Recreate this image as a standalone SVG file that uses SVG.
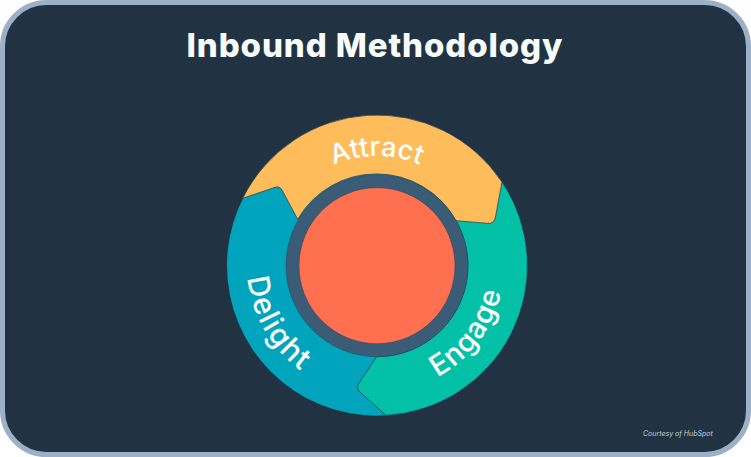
<svg xmlns="http://www.w3.org/2000/svg" width="751" height="457" viewBox="0 0 751 457">
  <style>
    .seg { stroke: #2b4158; stroke-width: 0.8; stroke-linejoin: round; }
    .lbl { font-family: "Inter", "Liberation Sans", sans-serif; font-weight: 500; fill: #ffffff; text-anchor: middle; }
  </style>
  <defs>
    <path id="pA" d="M306.6 181.6 A109.5 109.5 0 0 1 447.4 181.6"/>
    <path id="pE" d="M399.05 390.57 A127 127 0 0 0 503.52 254.43"/>
    <path id="pD" d="M248.97 242.93 A130 130 0 0 0 332.54 387.66"/>
  </defs>
  <rect x="0" y="0" width="751" height="457" fill="#ffffff"/>
  <rect id="frame" x="2.5" y="2.5" width="746" height="452" rx="44" ry="44" fill="#213343" stroke="#9cb1c8" stroke-width="5"/>
  <text id="title" x="374.5" y="57" font-family="Inter, 'Liberation Sans', sans-serif" font-weight="800" font-size="33" fill="#f8fbfc" text-anchor="middle" textLength="376" lengthAdjust="spacing">Inbound Methodology</text>
  <g id="delight">
    <circle cx="377" cy="265.7" r="150" fill="#00a4bd"/>
    <text class="lbl" font-size="30" letter-spacing="1.5"><textPath href="#pD" startOffset="50%">Delight</textPath></text>
  </g>
  <g id="engage">
    <path class="seg" fill="#03c1a7" d="M502 182 A150 150 0 0 1 386 415.4 L360 392 Q356 388 358.5 384 L376.7 356.7 A91 91 0 0 0 456 220.7 Z"/>
    <text class="lbl" font-size="29" letter-spacing="1"><textPath href="#pE" startOffset="51%">Engage</textPath></text>
  </g>
  <g id="attract">
    <path class="seg" fill="#ffbc5b" d="M242.7 198.3 A150 150 0 0 1 502 182 L495.5 217 Q494 224 488 223.4 L456 220.7 A91 91 0 0 0 297.7 219.3 L282 190 Q280 186 276 187 Z"/>
    <text class="lbl" font-size="27" letter-spacing="0.3"><textPath href="#pA" startOffset="50%">Attract</textPath></text>
  </g>
  <g id="hub">
    <circle cx="377" cy="265.7" r="84.5" fill="#ff7050" stroke="#3a5c76" stroke-width="13"/>
    <circle cx="377" cy="265.7" r="91" fill="none" stroke="#2b4158" stroke-width="0.5"/>
    <circle cx="377" cy="265.7" r="78" fill="none" stroke="#2b4158" stroke-width="0.5"/>
  </g>
  <g id="connectors"/>
  <text id="credit" x="643" y="436" font-family="Inter, 'Liberation Sans', sans-serif" font-style="italic" font-size="7" fill="#c3d0de">Courtesy of HubSpot</text>
</svg>
